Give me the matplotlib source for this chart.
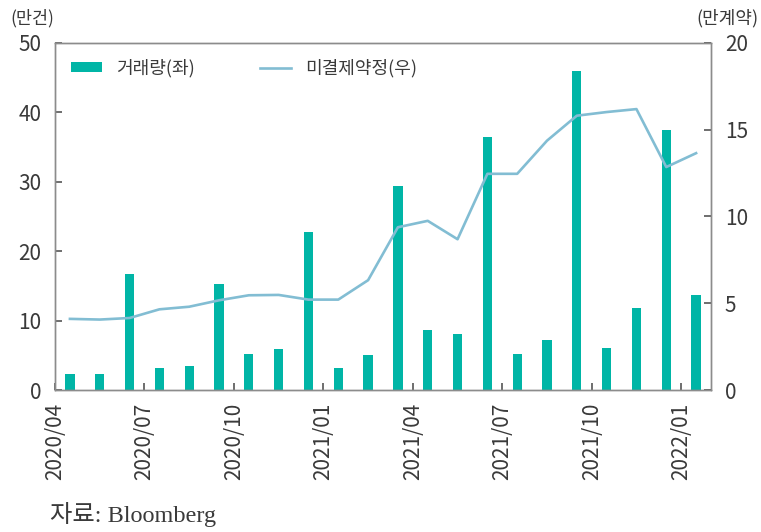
import numpy as np
import matplotlib.pyplot as plt
from matplotlib.patches import Patch
from matplotlib.lines import Line2D

plt.rcParams['font.family'] = ['Noto Sans CJK KR', 'DejaVu Sans']

# monthly data, 2020/04 - 2022/01
months = ['2020/04', '2020/05', '2020/06', '2020/07', '2020/08', '2020/09',
          '2020/10', '2020/11', '2020/12', '2021/01', '2021/02', '2021/03',
          '2021/04', '2021/05', '2021/06', '2021/07', '2021/08', '2021/09',
          '2021/10', '2021/11', '2021/12', '2022/01']
volume = [2.3, 2.3, 16.7, 3.1, 3.4, 15.3, 5.2, 5.9, 22.7, 3.2, 5.05, 29.4,
          8.6, 8.0, 36.5, 5.2, 7.2, 46.0, 6.05, 11.8, 37.5, 13.7]
open_int = [4.1, 4.06, 4.15, 4.65, 4.8, 5.17, 5.46, 5.48, 5.21, 5.21, 6.33, 9.38,
            9.75, 8.69, 12.46, 12.46, 14.37, 15.81, 16.02, 16.19, 12.85, 13.65]
tick_labels = ['2020/04', '2020/07', '2020/10', '2021/01', '2021/04',
               '2021/07', '2021/10', '2022/01']

bar_color = '#00b5a6'
line_color = '#82bdd3'
spine_color = '#8c8c8c'
text_color = '#3a3a3a'

fig = plt.figure(figsize=(7.61, 5.32), dpi=100)
ax = fig.add_axes([0.0723, 0.2669, 0.862, 0.6523])
ax2 = ax.twinx()

x = np.arange(len(months)) + 0.5
ax.bar(x, volume, width=0.31, color=bar_color, zorder=2)
ax2.plot(x, open_int, color=line_color, lw=1.9, zorder=3)

ax.set_xlim(0, 22)
ax.set_ylim(0, 50)
ax2.set_ylim(0, 20)
ax.set_yticks(range(0, 51, 10))
ax2.set_yticks(range(0, 21, 5))
ax.set_xticks(range(0, 22, 3))
ax.set_xticklabels(tick_labels, rotation=90)

for a in (ax, ax2):
    for s in a.spines.values():
        s.set_color(spine_color)
        s.set_linewidth(1.0)
    a.tick_params(direction='in', length=5, width=1.2, color='#555555',
                  labelsize=15, labelcolor=text_color, pad=10)
ax.tick_params(axis='x', pad=9)

fig.text(0.013, 0.966, '(만건)', fontsize=12.5, color=text_color,
         ha='left', va='center')
fig.text(0.997, 0.966, '(만계약)', fontsize=13, color=text_color,
         ha='right', va='center')

handles = [Patch(facecolor=bar_color, edgecolor='none'),
           Line2D([0], [0], color=line_color, lw=1.9)]
ax.legend(handles, ['거래량(좌)', '미결제약정(우)'], loc='upper left', ncol=2,
          frameon=False, fontsize=13, handlelength=1.7, handleheight=0.5,
          columnspacing=3.6, bbox_to_anchor=(0.0, 1.0), labelcolor=text_color)

fig.text(0.066, 0.01, '자료: Bloomberg', fontsize=17.5, color=text_color,
         family=['Liberation Serif', 'Noto Sans CJK KR'], ha='left', va='bottom')

fig.savefig('out.png', dpi=100)
